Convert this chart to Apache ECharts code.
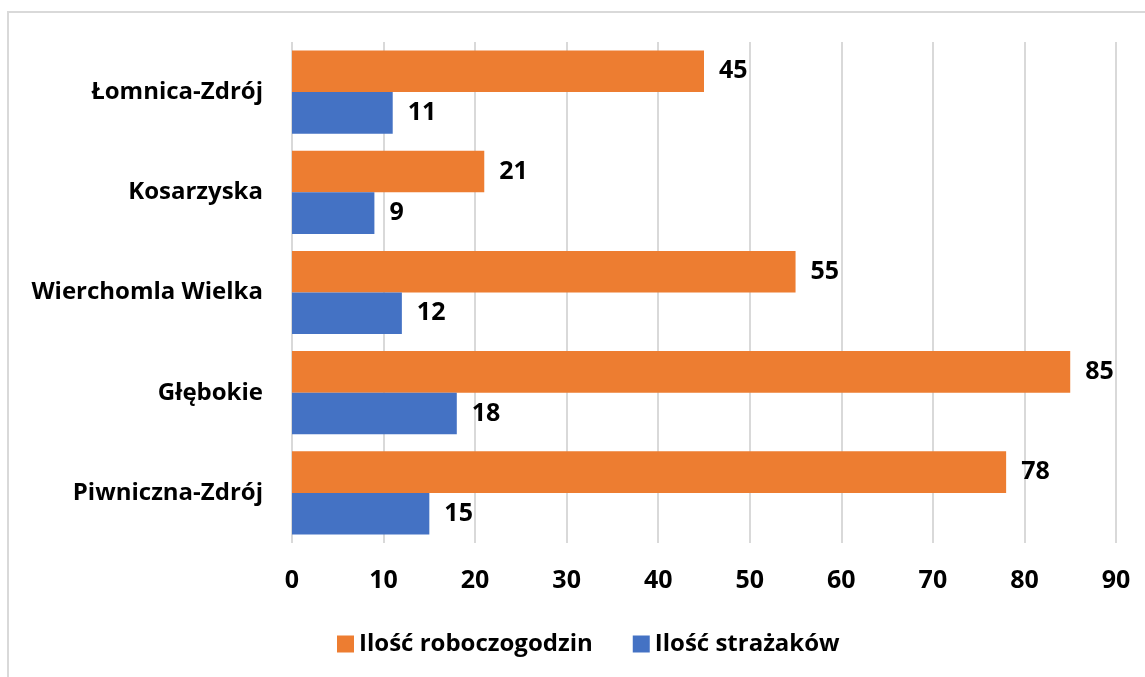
<!DOCTYPE html>
<html>
<head>
<meta charset="utf-8">
<script src="https://cdn.jsdelivr.net/npm/echarts@6/dist/echarts.min.js"></script>
<style>
html,body{margin:0;padding:0;background:#fff;}
#chart{width:1145px;height:677px;}
</style>
</head>
<body>
<div id="chart"></div>
<script>
var categories = ['Łomnica-Zdrój', 'Kosarzyska', 'Wierchomla Wielka', 'Głębokie', 'Piwniczna-Zdrój'];
var seriesNames = ['Ilość roboczogodzin', 'Ilość strażaków'];
var roboczogodziny = [45, 21, 55, 85, 78];
var strazacy = [11, 9, 12, 18, 15];
var xTicks = { min: 0, max: 90, interval: 10 };

var FONT = '"Open Sans", "Noto Sans", sans-serif';
var chart = echarts.init(document.getElementById('chart'), null, { renderer: 'canvas' });
var labelStyle = { show: true, position: 'right', distance: 15, fontFamily: FONT, fontWeight: 'bold', fontSize: 25, color: '#000' };
chart.setOption({
  animation: false,
  backgroundColor: '#fff',
  graphic: [{
    type: 'rect',
    shape: { x: 8, y: 12, width: 1300, height: 900 },
    style: { fill: 'none', stroke: '#d9d9d9', lineWidth: 2 },
    silent: true
  }],
  grid: { left: 292, right: 29, top: 42, bottom: 134, containLabel: false },
  legend: {
    data: seriesNames,
    left: 332,
    top: 627,
    itemWidth: 17,
    itemHeight: 17,
    itemGap: 40,
    icon: 'rect',
    textStyle: { fontFamily: FONT, fontWeight: 'bold', fontSize: 24, color: '#000' }
  },
  xAxis: {
    type: 'value',
    min: xTicks.min,
    max: xTicks.max,
    interval: xTicks.interval,
    axisLine: { show: false },
    axisTick: { show: false },
    splitLine: { show: true, lineStyle: { color: '#d9d9d9', width: 2 } },
    axisLabel: { margin: 25, fontFamily: FONT, fontWeight: 'bold', fontSize: 25, color: '#000' }
  },
  yAxis: {
    type: 'category',
    data: categories,
    inverse: true,
    axisLine: { show: false },
    axisTick: { show: false },
    axisLabel: { margin: 29, fontFamily: FONT, fontWeight: 'bold', fontSize: 24, color: '#000' }
  },
  series: [
    {
      name: seriesNames[0], type: 'bar', data: roboczogodziny,
      itemStyle: { color: '#ED7D31' },
      barGap: '0%', barCategoryGap: '17%',
      label: labelStyle
    },
    {
      name: seriesNames[1], type: 'bar', data: strazacy,
      itemStyle: { color: '#4472C4' },
      barGap: '0%', barCategoryGap: '17%',
      label: labelStyle
    }
  ]
});
</script>
</body>
</html>
